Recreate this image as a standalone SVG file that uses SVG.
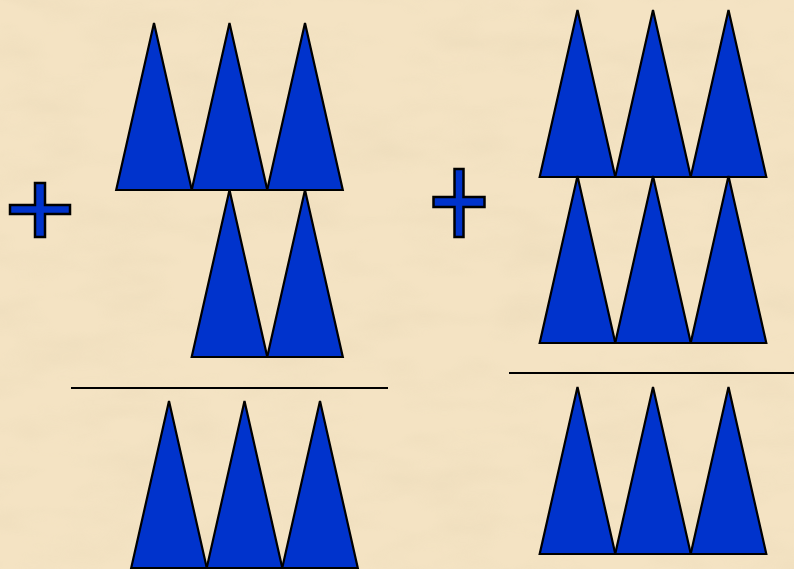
<svg xmlns="http://www.w3.org/2000/svg" width="794" height="569" viewBox="0 0 794 569">
<style>
.t{fill:#0033CC;stroke:#000;stroke-width:2.2;stroke-linejoin:miter}
.p{fill:#0033CC;stroke:#000;stroke-width:2.5}
.l{stroke:#000;stroke-width:2}
</style>
<defs>
<filter id="tex" x="0" y="0" width="100%" height="100%">
<feTurbulence type="fractalNoise" baseFrequency="0.012 0.03" numOctaves="3" seed="7"/>
<feColorMatrix type="matrix" values="0 0 0 0 0.78  0 0 0 0 0.66  0 0 0 0 0.45  0 0 0 1.1 -0.45"/>
</filter>
<polygon id="tri" points="0,0 -37.8,167 37.8,167"/>
</defs>
<rect width="794" height="569" fill="#F4E3C3"/>
<rect width="794" height="569" filter="url(#tex)" opacity="0.55"/>
<g id="plus-left"><polygon class="p" points="35,183 45,183 45,205 70,205 70,214 45,214 45,237 35,237 35,214 10,214 10,205 35,205"/></g>
<g id="group-left-top">
<use href="#tri" class="t" x="154" y="23"/>
<use href="#tri" class="t" x="229.5" y="23"/>
<use href="#tri" class="t" x="305" y="23"/>
</g>
<g id="group-left-mid">
<use href="#tri" class="t" x="229.5" y="190"/>
<use href="#tri" class="t" x="305" y="190"/>
</g>
<g id="group-left-bottom">
<use href="#tri" class="t" x="169" y="401"/>
<use href="#tri" class="t" x="244.5" y="401"/>
<use href="#tri" class="t" x="320" y="401"/>
</g>
<g id="plus-right"><polygon class="p" points="454.5,169 463.5,169 463.5,197 484.5,197 484.5,207 463.5,207 463.5,237 454.5,237 454.5,207 433.5,207 433.5,197 454.5,197"/></g>
<g id="group-right-top">
<use href="#tri" class="t" x="577.5" y="10"/>
<use href="#tri" class="t" x="653" y="10"/>
<use href="#tri" class="t" x="728.5" y="10"/>
</g>
<g id="group-right-mid">
<use href="#tri" class="t" x="577.5" y="176"/>
<use href="#tri" class="t" x="653" y="176"/>
<use href="#tri" class="t" x="728.5" y="176"/>
</g>
<g id="group-right-bottom">
<use href="#tri" class="t" x="577.5" y="387"/>
<use href="#tri" class="t" x="653" y="387"/>
<use href="#tri" class="t" x="728.5" y="387"/>
</g>
<g id="lines">
<line class="l" x1="71" y1="388" x2="388" y2="388"/>
<line class="l" x1="509" y1="373" x2="794" y2="373"/>
</g>
</svg>
